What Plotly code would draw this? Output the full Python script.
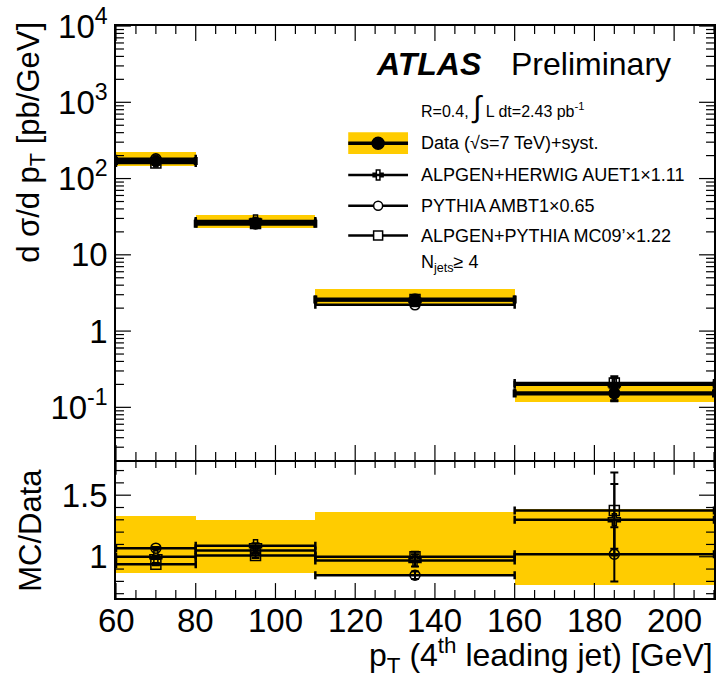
import math
import plotly.graph_objects as go

# ---------------- data ----------------
bin_edges = [60, 80, 110, 160, 210]
bin_centers = [70, 95, 135, 185]
data_xsec = [170.0, 25.5, 2.6, 0.152]          # pb/GeV
data_stat_rel = [0.01, 0.02, 0.04, 0.20]
syst_lo_rel = [0.87, 0.87, 0.84, 0.77]
syst_hi_rel = [1.33, 1.30, 1.36, 1.39]

ratio_herwig = [1.00, 1.09, 0.97, 1.30]
ratio_herwig_err = [0.01, 0.02, 0.05, 0.29]
ratio_pythia = [1.07, 1.05, 0.85, 1.02]
ratio_pythia_err = [0.01, 0.02, 0.03, 0.22]
ratio_mc09 = [0.94, 1.01, 1.00, 1.375]
ratio_mc09_err = [0.01, 0.02, 0.04, 0.31]

x_tickvals = [60, 80, 100, 120, 140, 160, 180, 200]
x_minor_step = 5
y_tickvals = [1e4, 1e3, 1e2, 10, 1, 0.1]
y_ticktext = ["10<sup>4</sup>", "10<sup>3</sup>", "10<sup>2</sup>", "10", "1", "10<sup>-1</sup>"]
r_tickvals = [1, 1.5]
r_ticktext = ["1", "1.5"]
r_minor_vals = [0.7, 0.8, 0.9, 1.1, 1.2, 1.3, 1.4, 1.6, 1.7]

# ---------------- derived ----------------
half_w = [(bin_edges[i + 1] - bin_edges[i]) / 2 for i in range(len(bin_centers))]
full_w = [2 * h for h in half_w]

YEL = "#FFCC00"
FONT = "Liberation Sans, Arial, sans-serif"

# layout geometry (pixels)
W, H = 719, 680
L, R, T, B = 116, 3, 22, 82
split_px = 459
PW, PH = W - L - R, H - T - B
split = (H - B - split_px) / PH
X_RANGE = [60, 210]
Y_RANGE = [-1.69, 4.0005]
R_RANGE = [0.665, 1.786]
TOP_H = split_px - T
RAT_H = H - B - split_px


def px_x(px):
    return (px - L) / PW


def px_y(py):
    return (H - B - py) / PH


fig = go.Figure()

# --- syst bands ---
fig.add_trace(go.Bar(
    x=bin_centers, width=full_w,
    base=[d * lo for d, lo in zip(data_xsec, syst_lo_rel)],
    y=[d * (hi - lo) for d, lo, hi in zip(data_xsec, syst_lo_rel, syst_hi_rel)],
    marker=dict(color=YEL, line=dict(width=0)), xaxis="x", yaxis="y", showlegend=False,
))
fig.add_trace(go.Bar(
    x=bin_centers, width=full_w,
    base=syst_lo_rel,
    y=[hi - lo for lo, hi in zip(syst_lo_rel, syst_hi_rel)],
    marker=dict(color=YEL, line=dict(width=0)), xaxis="x2", yaxis="y2", showlegend=False,
))

# --- frame ticks (ROOT style, pointing into each pad), drawn as line traces ---
gev_per_px = (X_RANGE[1] - X_RANGE[0]) / PW
dec_per_px = (Y_RANGE[1] - Y_RANGE[0]) / TOP_H
r_per_px = (R_RANGE[1] - R_RANGE[0]) / RAT_H

x_all = []
v = X_RANGE[0]
while v <= X_RANGE[1] + 1e-9:
    x_all.append(v)
    v += x_minor_step

tx, ty, rx, ry = [], [], [], []
for v in x_all:
    ln = 15 if v in x_tickvals else 8
    # top pad: bottom edge (up) and top edge (down)
    tx += [v, v, None, v, v, None]
    ty += [10 ** Y_RANGE[0], 10 ** (Y_RANGE[0] + ln * dec_per_px), None,
           10 ** Y_RANGE[1], 10 ** (Y_RANGE[1] - ln * dec_per_px), None]
    # ratio pad: bottom edge (up) and top edge (down)
    rx += [v, v, None, v, v, None]
    ry += [R_RANGE[0], R_RANGE[0] + ln * r_per_px, None,
           R_RANGE[1], R_RANGE[1] - ln * r_per_px, None]

for e in range(-2, 5):
    for m in range(1, 10):
        val = m * 10 ** e
        lg = math.log10(val)
        if lg < Y_RANGE[0] or lg > Y_RANGE[1]:
            continue
        ln = 15 if m == 1 else 8
        tx += [X_RANGE[0], X_RANGE[0] + ln * gev_per_px, None,
               X_RANGE[1], X_RANGE[1] - ln * gev_per_px, None]
        ty += [val, val, None, val, val, None]

for val in r_tickvals + r_minor_vals:
    ln = 15 if val in r_tickvals else 8
    rx += [X_RANGE[0], X_RANGE[0] + ln * gev_per_px, None,
           X_RANGE[1], X_RANGE[1] - ln * gev_per_px, None]
    ry += [val, val, None, val, val, None]

fig.add_trace(go.Scatter(x=tx, y=ty, mode="lines", xaxis="x", yaxis="y", showlegend=False,
                         hoverinfo="skip", cliponaxis=False, line=dict(color="black", width=1.2)))
fig.add_trace(go.Scatter(x=rx, y=ry, mode="lines", xaxis="x2", yaxis="y2", showlegend=False,
                         hoverinfo="skip", cliponaxis=False, line=dict(color="black", width=1.2)))

mc_sets = [
    (ratio_herwig, ratio_herwig_err, "cross-open"),
    (ratio_pythia, ratio_pythia_err, "circle-open"),
    (ratio_mc09, ratio_mc09_err, "square-open"),
]

for ratio, err, sym in mc_sets:
    top_vals = [d * r for d, r in zip(data_xsec, ratio)]
    top_err = [d * e for d, e in zip(data_xsec, err)]
    for xa, ya, yv, ye in (("x", "y", top_vals, top_err), ("x2", "y2", ratio, err)):
        fig.add_trace(go.Scatter(
            x=bin_centers, y=yv, mode="markers", xaxis=xa, yaxis=ya, showlegend=False,
            marker=dict(symbol=sym, size=10, color="black", line=dict(width=1.5, color="black")),
            error_x=dict(type="data", array=half_w, thickness=2.5, width=4, color="black"),
            error_y=dict(type="data", array=ye, thickness=2, width=4, color="black"),
        ))

# --- data ---
fig.add_trace(go.Scatter(
    x=bin_centers, y=data_xsec, mode="markers", xaxis="x", yaxis="y", showlegend=False,
    marker=dict(symbol="circle", size=12, color="black"),
    error_x=dict(type="data", array=half_w, thickness=4, width=4, color="black"),
    error_y=dict(type="data", array=[d * s for d, s in zip(data_xsec, data_stat_rel)],
                 thickness=3, width=4, color="black"),
))

shapes = []

# --- legend samples (shapes in paper coords, pixel-sized markers) ---
leg_x0, leg_x1 = 349, 409
leg_xc = (leg_x0 + leg_x1) / 2
rows = {"data": 140, "herwig": 172, "pythia": 203, "mc09": 233}
shapes.append(dict(type="rect", xref="paper", yref="paper", x0=px_x(leg_x0), x1=px_x(leg_x1),
                   y0=px_y(151), y1=px_y(129), fillcolor=YEL, line=dict(width=0), layer="above"))
for key, lw in (("data", 3.5), ("herwig", 2.5), ("pythia", 2.5), ("mc09", 2.5)):
    shapes.append(dict(type="line", xref="paper", yref="paper", x0=px_x(leg_x0), x1=px_x(leg_x1),
                       y0=px_y(rows[key]), y1=px_y(rows[key]), line=dict(color="black", width=lw)))


def pix_shape(kind, key, r, fill, path=None):
    d = dict(type=kind, xref="paper", yref="paper", xsizemode="pixel", ysizemode="pixel",
             xanchor=px_x(leg_xc), yanchor=px_y(rows[key]),
             fillcolor=fill, line=dict(color="black", width=1.5))
    if path:
        d["path"] = path
    else:
        d.update(x0=-r, x1=r, y0=-r, y1=r)
    return d


shapes.append(pix_shape("circle", "data", 6, "black"))
shapes.append(pix_shape("path", "herwig", 0, "rgba(0,0,0,0)",
                        path="M 5,1.8 H 1.8 V 5 H -1.8 V 1.8 H -5 V -1.8 H -1.8 V -5 H 1.8 V -1.8 H 5 Z"))
shapes.append(pix_shape("circle", "pythia", 4.5, "white"))
shapes.append(pix_shape("rect", "mc09", 4.5, "white"))

# --- annotations ---
ann = []


def add_text(text, xp, yp, size, xanchor="left", yanchor="middle", angle=0):
    ann.append(dict(text=text, x=px_x(xp), y=px_y(yp), xref="paper", yref="paper",
                    xanchor=xanchor, yanchor=yanchor, showarrow=False, textangle=angle,
                    font=dict(family=FONT, size=size, color="black")))


add_text("<b><i>ATLAS</i></b>", 375, 60, 32)
add_text("Preliminary", 510, 60, 32)
add_text("R=0.4, <span style='font-size:30px'>∫</span> L dt=2.43 pb<sup>-1</sup>", 420, 104, 16)
add_text("Data (√s=7 TeV)+syst.", 420, rows["data"], 18)
add_text("ALPGEN+HERWIG AUET1×1.11", 420, rows["herwig"], 18)
add_text("PYTHIA AMBT1×0.65", 420, rows["pythia"], 18)
add_text("ALPGEN+PYTHIA MC09’×1.22", 420, rows["mc09"], 18)
add_text("N<sub>jets</sub>≥ 4", 420, 261, 18)

add_text("d σ/d p<sub>T</sub> [pb/GeV]", 30, 16, 31, xanchor="center", yanchor="top", angle=-90)
add_text("MC/Data", 30, 530, 31, xanchor="center", yanchor="middle", angle=-90)
add_text("p<sub>T</sub> (4<sup>th</sup> leading jet) [GeV]", 717, 656, 32, xanchor="right", yanchor="middle")

# x tick labels of the ratio panel, placed just under the axis
for tv in x_tickvals:
    ann.append(dict(text=str(tv), x=tv, xref="x2", y=px_y(621), yref="paper",
                    xanchor="center", yanchor="middle", showarrow=False,
                    font=dict(family=FONT, size=33, color="black")))

frame = dict(showline=True, linecolor="black", linewidth=1.5, ticks="",
             showgrid=False, zeroline=False, tickfont=dict(family=FONT, size=33, color="black"))

fig.update_layout(
    width=W, height=H,
    margin=dict(l=L, r=R, t=T, b=B, pad=0),
    paper_bgcolor="white", plot_bgcolor="white",
    barmode="overlay", bargap=0,
    showlegend=False,
    annotations=ann,
    shapes=shapes,
    xaxis=dict(domain=[0, 1], range=X_RANGE, anchor="y", showticklabels=False, mirror=True, **frame),
    yaxis=dict(domain=[split, 1], type="log", range=Y_RANGE, anchor="x", mirror=True,
               tickmode="array", tickvals=y_tickvals, ticktext=y_ticktext,
               ticklabeloverflow="allow", **frame),
    xaxis2=dict(domain=[0, 1], range=X_RANGE, anchor="y2", showticklabels=False, mirror=False, **frame),
    yaxis2=dict(domain=[0, split], range=R_RANGE, anchor="x2", mirror=True,
                tickmode="array", tickvals=r_tickvals, ticktext=r_ticktext, **frame),
)

fig.write_html("out.html")
